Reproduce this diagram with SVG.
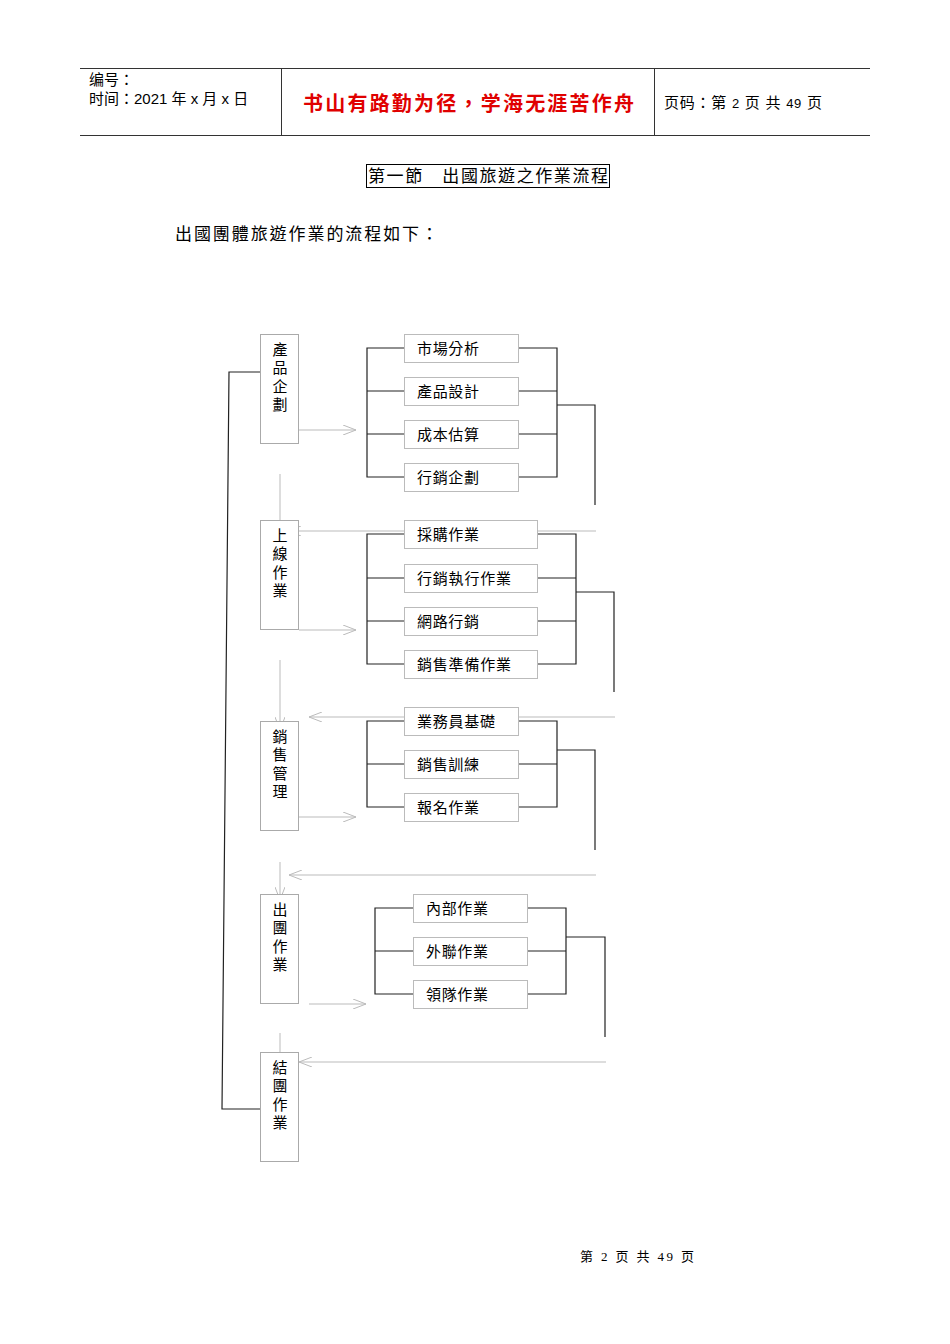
<svg xmlns="http://www.w3.org/2000/svg" width="950" height="1344" viewBox="0 0 950 1344">
<style>
text{font-family:"Liberation Sans","Noto Sans CJK TC",sans-serif;fill:#000}
.t{font-size:15px}
.v{font-size:15px;text-anchor:middle}
.bx{fill:#fff;stroke:#bbb;stroke-width:1}
.lb{fill:#fff;stroke:#aaa;stroke-width:1}
.k{fill:none;stroke:#222;stroke-width:1.2}
.g{fill:none;stroke:#bbb;stroke-width:1}
</style>
<defs>
<marker id="a" markerWidth="14" markerHeight="10" refX="13" refY="5" orient="auto" markerUnits="userSpaceOnUse">
<path d="M0,0 L13,5 L0,10" fill="none" stroke="#bbb"/>
</marker>
</defs>
<rect width="950" height="1344" fill="#fff"/>
<g id="header">
<path d="M80,68.5H870M80,135.5H870M281.5,68V136M654.5,68V136" stroke="#333" fill="none"/>
<text x="89" y="85" font-size="15">编号：</text>
<text x="89" y="104" font-size="15">时间：2021 年 x 月 x 日</text>
<text x="303" y="111" font-size="20" font-weight="bold" textLength="331" lengthAdjust="spacing" style="fill:#e00000">书山有路勤为径，学海无涯苦作舟</text>
<text x="664" y="108" font-size="15" textLength="158" lengthAdjust="spacing">页码：第 <tspan font-size="13">2</tspan> 页  共 <tspan font-size="13">49</tspan> 页</text>
</g>
<g id="title">
<rect x="366.5" y="164.5" width="243" height="23" fill="none" stroke="#000"/>
<text x="368" y="182" font-size="17" textLength="240" lengthAdjust="spacing">第一節　出國旅遊之作業流程</text>
<text x="175" y="240" font-size="17" textLength="263" lengthAdjust="spacing">出國團體旅遊作業的流程如下：</text>
</g>
<g id="connectors">
<path class="g" d="M299,430H356" marker-end="url(#a)"/>
<path class="g" d="M299,630H356" marker-end="url(#a)"/>
<path class="g" d="M299,817H356" marker-end="url(#a)"/>
<path class="g" d="M309,1004H366" marker-end="url(#a)"/>
<path class="g" d="M280,474V530"/>
<path class="g" d="M280,660V730" marker-end="url(#a)"/>
<path class="g" d="M280,862V900" marker-end="url(#a)"/>
<path class="g" d="M280,1033V1062"/>
<path class="g" d="M596,531H288" marker-end="url(#a)"/>
<path class="g" d="M615,717H309" marker-end="url(#a)"/>
<path class="g" d="M596,875H289" marker-end="url(#a)"/>
<path class="g" d="M606,1062H299" marker-end="url(#a)"/>
<path class="k" d="M260,372H229L222,1109H260"/>
<path class="k" d="M404,348H367V477H404M367,391H404M367,434H404M519,348H557V477H519M519,391H557M519,434H557M557,405H595V505"/>
<path class="k" d="M404,534H367V664H404M367,578H404M367,621H404M538,534H576V664H538M538,578H576M538,621H576M576,592H614V692"/>
<path class="k" d="M404,721H367V807H404M367,764H404M519,721H557V807H519M519,764H557M557,750H595V850"/>
<path class="k" d="M413,908H375V994H413M375,951H413M528,908H566V994H528M528,951H566M566,937H605V1037"/>
</g>
<g id="n1"><rect class="lb" x="260.5" y="334.5" width="38" height="109"/><text class="v" x="280" y="355">產</text><text class="v" x="280" y="373">品</text><text class="v" x="280" y="392">企</text><text class="v" x="280" y="410">劃</text></g>
<g id="n2"><rect class="lb" x="260.5" y="520.5" width="38" height="109"/><text class="v" x="280" y="541">上</text><text class="v" x="280" y="559">線</text><text class="v" x="280" y="578">作</text><text class="v" x="280" y="596">業</text></g>
<g id="n3"><rect class="lb" x="260.5" y="721.5" width="38" height="109"/><text class="v" x="280" y="742">銷</text><text class="v" x="280" y="760">售</text><text class="v" x="280" y="779">管</text><text class="v" x="280" y="797">理</text></g>
<g id="n4"><rect class="lb" x="260.5" y="894.5" width="38" height="109"/><text class="v" x="280" y="915">出</text><text class="v" x="280" y="933">團</text><text class="v" x="280" y="952">作</text><text class="v" x="280" y="970">業</text></g>
<g id="n5"><rect class="lb" x="260.5" y="1052.5" width="38" height="109"/><text class="v" x="280" y="1073">結</text><text class="v" x="280" y="1091">團</text><text class="v" x="280" y="1110">作</text><text class="v" x="280" y="1128">業</text></g>
<g id="b1"><rect class="bx" x="404.5" y="334.5" width="114" height="28"/><text class="t" x="417" y="354" textLength="62">市場分析</text></g>
<g id="b2"><rect class="bx" x="404.5" y="377.5" width="114" height="28"/><text class="t" x="417" y="397" textLength="62">產品設計</text></g>
<g id="b3"><rect class="bx" x="404.5" y="420.5" width="114" height="28"/><text class="t" x="417" y="440" textLength="62">成本估算</text></g>
<g id="b4"><rect class="bx" x="404.5" y="463.5" width="114" height="28"/><text class="t" x="417" y="483" textLength="62">行銷企劃</text></g>
<g id="b5"><rect class="bx" x="404.5" y="520.5" width="133" height="28"/><text class="t" x="417" y="540" textLength="62">採購作業</text></g>
<g id="b6"><rect class="bx" x="404.5" y="564.5" width="133" height="28"/><text class="t" x="417" y="584" textLength="94">行銷執行作業</text></g>
<g id="b7"><rect class="bx" x="404.5" y="607.5" width="133" height="28"/><text class="t" x="417" y="627" textLength="62">網路行銷</text></g>
<g id="b8"><rect class="bx" x="404.5" y="650.5" width="133" height="28"/><text class="t" x="417" y="670" textLength="94">銷售準備作業</text></g>
<g id="b9"><rect class="bx" x="404.5" y="707.5" width="114" height="28"/><text class="t" x="417" y="727" textLength="78">業務員基礎</text></g>
<g id="b10"><rect class="bx" x="404.5" y="750.5" width="114" height="28"/><text class="t" x="417" y="770" textLength="62">銷售訓練</text></g>
<g id="b11"><rect class="bx" x="404.5" y="793.5" width="114" height="28"/><text class="t" x="417" y="813" textLength="62">報名作業</text></g>
<g id="b12"><rect class="bx" x="413.5" y="894.5" width="114" height="28"/><text class="t" x="426" y="914" textLength="62">內部作業</text></g>
<g id="b13"><rect class="bx" x="413.5" y="937.5" width="114" height="28"/><text class="t" x="426" y="957" textLength="62">外聯作業</text></g>
<g id="b14"><rect class="bx" x="413.5" y="980.5" width="114" height="28"/><text class="t" x="426" y="1000" textLength="62">領隊作業</text></g>
<g id="footer"><text x="580" y="1261" font-size="13" textLength="114" lengthAdjust="spacing" style="font-family:'Liberation Serif','Noto Sans CJK SC',serif">第 2 页 共 49 页</text></g>
</svg>
